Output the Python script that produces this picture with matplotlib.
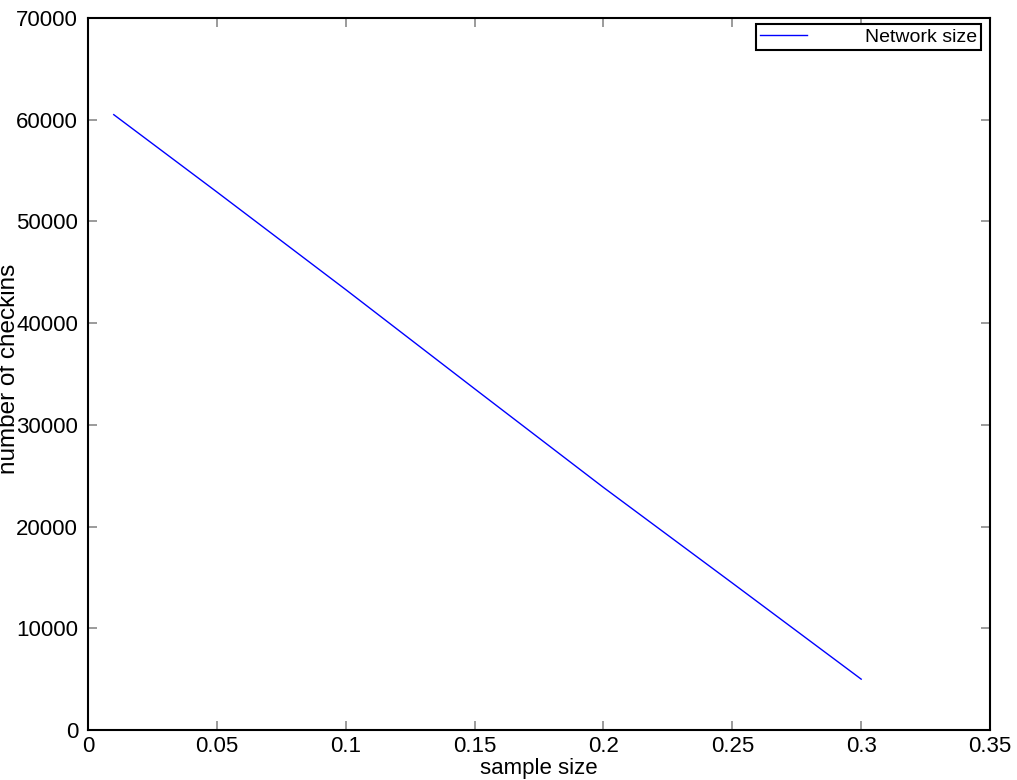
#! /usr/bin/python3

""" Network size vs sample size, gnuplot-like look."""

import matplotlib
matplotlib.use('Agg')
import matplotlib.pyplot as plt

sample_size = [0.01, 0.05, 0.1, 0.15, 0.2, 0.25, 0.3]
checkins = [60500, 52900, 43300, 33550, 23850, 14450, 5000]

x_ticks = [0, 0.05, 0.1, 0.15, 0.2, 0.25, 0.3, 0.35]
x_tick_labels = ['0', '0.05', '0.1', '0.15', '0.2', '0.25', '0.3', '0.35']
y_ticks = [0, 10000, 20000, 30000, 40000, 50000, 60000, 70000]

plt.rcParams['font.family'] = ['Liberation Sans', 'DejaVu Sans']

fig = plt.figure(figsize=(10.17, 7.8), dpi=100)
ax = fig.add_axes([0.0865, 0.0641, 0.887, 0.9128])

ax.plot(sample_size, checkins, color='#0000ff', linewidth=1.0,
        label='Network size')

ax.set_xlim(0, 0.35)
ax.set_ylim(0, 70000)
ax.set_xticks(x_ticks)
ax.set_xticklabels(x_tick_labels)
ax.set_yticks(y_ticks)
ax.set_yticklabels([str(v) for v in y_ticks])

# gnuplot style: grey inward ticks on all four sides
ax.tick_params(direction='in', length=6.5, width=1.1, color='#808080',
               top=True, right=True, labelsize=16, labelcolor='black')
ax.tick_params(axis='y', pad=7)
ax.tick_params(axis='x', pad=4)

for spine in ax.spines.values():
    spine.set_linewidth(1.5)
    spine.set_color('black')

ax.set_xlabel('sample size', fontsize=16, labelpad=1)
ax.set_ylabel('number of checkins', fontsize=17.5)
# label sits hard against the left edge, like the gnuplot output
ax.yaxis.set_label_coords(-0.0754, 0.507)

leg = ax.legend(loc='upper right', bbox_to_anchor=(0.990, 0.991),
                fontsize=14, fancybox=False, framealpha=1,
                borderpad=0.2, borderaxespad=0, handlelength=2.4,
                handletextpad=3.0)
leg.get_frame().set_edgecolor('black')
leg.get_frame().set_linewidth(1.5)

fig.savefig('out.png', dpi=100)
